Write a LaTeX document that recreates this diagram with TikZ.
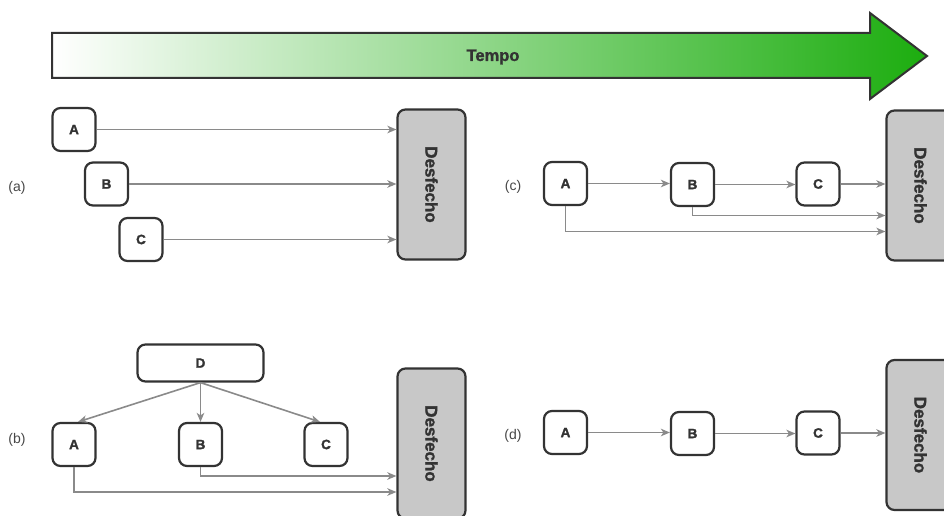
\documentclass[tikz,border=0pt]{standalone}
\usepackage{fontspec}
\setmainfont{Liberation Sans}
\newfontfamily\heavyfont{Liberation Sans Bold}[FakeBold=1.6]
\usetikzlibrary{arrows.meta}
\definecolor{edgegray}{HTML}{333333}
\definecolor{linegray}{HTML}{8A8A8A}
\definecolor{boxgray}{HTML}{C8C8C8}
\definecolor{timegreen}{HTML}{1CAD0F}
\begin{document}
\begin{tikzpicture}[x=1pt, y=-1pt,
    item/.style={draw=edgegray, line width=2.2pt, rounded corners=8pt, fill=white,
        minimum width=43pt, minimum height=43pt, text=edgegray,
        font=\heavyfont\fontsize{13.5}{15}\selectfont},
    outcome/.style={draw=edgegray, line width=2.2pt, rounded corners=8pt, fill=boxgray,
        minimum width=150pt, minimum height=68pt, rotate=-90, text=edgegray,
        font=\heavyfont\fontsize{17}{19}\selectfont},
    caselabel/.style={text=edgegray!90, font=\fontsize{14}{16}\selectfont},
    flow/.style={draw=linegray, line width=1.6pt, -{Stealth[length=9pt, width=7.5pt, inset=2.5pt]}}]
    \useasboundingbox (0,0) rectangle (944,516);

    \draw[edgegray, line width=2pt, left color=white, right color=timegreen]
        (52,33) -- (870,33) -- (870,13) -- (927,56) -- (870,99) -- (870,78) -- (52,78) -- cycle;
    \node[text=edgegray, font=\heavyfont\fontsize{16.5}{18}\selectfont] (tempo) at (493,57) {Tempo};

    \node[caselabel] (la) at (17,188) {(a)};
    \node[caselabel] (lb) at (17,440) {(b)};
    \node[caselabel] (lc) at (513,187) {(c)};
    \node[caselabel] (ld) at (513,436) {(d)};

    \node[item] (Aa) at (74,129.5) {A};
    \node[item] (Ba) at (106.5,184) {B};
    \node[item] (Ca) at (141,239.5) {C};
    \node[outcome] (Oa) at (431.5,184.5) {Desfecho};

    \node[item] (Ac) at (565.5,183.5) {A};
    \node[item] (Bc) at (692.5,184.5) {B};
    \node[item] (Cc) at (818,184) {C};
    \node[outcome] (Oc) at (920.5,185.5) {Desfecho};

    \node[item, minimum width=126pt, minimum height=37pt] (Db) at (200.5,363) {D};
    \node[item] (Ab) at (74,444.5) {A};
    \node[item] (Bb) at (200.5,444.5) {B};
    \node[item] (Cb) at (326,444.5) {C};
    \node[outcome] (Ob) at (431.5,443.5) {Desfecho};

    \node[item] (Ad) at (565.5,432.5) {A};
    \node[item] (Bd) at (692.5,433.5) {B};
    \node[item] (Cd) at (818,433) {C};
    \node[outcome] (Od) at (920.5,435) {Desfecho};

    \draw[flow] (Aa) -- (Aa -| Oa.south);
    \draw[flow] (Ba) -- (Ba -| Oa.south);
    \draw[flow] (Ca) -- (Ca -| Oa.south);

    \draw[flow] (Ac) -- (Ac -| Bc.west);
    \draw[flow] (Bc) -- (Bc -| Cc.west);
    \draw[flow] (Cc) -- (Cc -| Oc.south);
    \draw[flow] (Bc.south) |- ([yshift=-30pt]Oc.south);
    \draw[flow] (Ac.south) |- ([yshift=-46pt]Oc.south);

    \draw[flow] (Db.south) -- ([xshift=4pt]Ab.north);
    \draw[flow] (Db.south) -- (Bb.north);
    \draw[flow] (Db.south) -- ([xshift=-6pt]Cb.north);
    \draw[flow] (Bb.south) |- ([yshift=-32.5pt]Ob.south);
    \draw[flow] (Ab.south) |- ([yshift=-48.5pt]Ob.south);

    \draw[flow] (Ad) -- (Ad -| Bd.west);
    \draw[flow] (Bd) -- (Bd -| Cd.west);
    \draw[flow] (Cd) -- (Cd -| Od.south);
\end{tikzpicture}
\end{document}
